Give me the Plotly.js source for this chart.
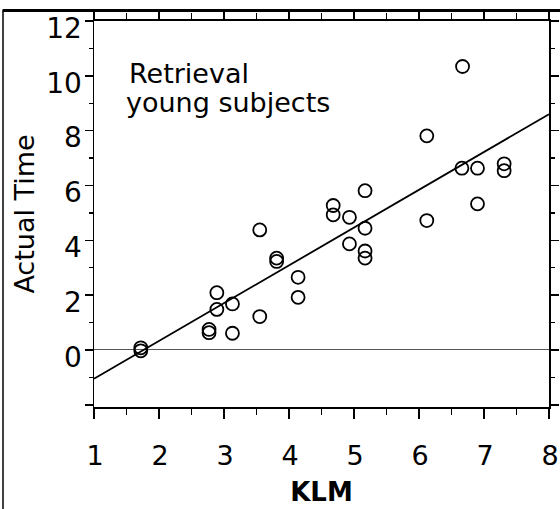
<!DOCTYPE html>
<html>
<head>
<meta charset="utf-8">
<script src="https://cdn.plot.ly/plotly-3.0.1.min.js"></script>
<style>html,body{margin:0;padding:0;background:#fff;}#chart{width:560px;height:509px;}</style>
</head>
<body>
<div id="chart"></div>
<script>
// Observed data: KLM predicted time vs actual time (retrieval, young subjects)
const klm = [1.72, 1.72, 2.77, 2.77, 2.89, 2.89, 3.13, 3.13, 3.55, 3.55,
             3.81, 3.81, 4.14, 4.14, 4.68, 4.68, 4.93, 4.93, 5.17, 5.17,
             5.17, 5.17, 6.12, 6.12, 6.66, 6.67, 6.90, 6.90, 7.31, 7.31];
const actualTime = [0.08, -0.03, 0.75, 0.63, 2.09, 1.48, 1.68, 0.61, 4.38, 1.22,
                    3.35, 3.23, 2.65, 1.92, 5.27, 4.93, 4.84, 3.87, 5.81, 4.44,
                    3.61, 3.35, 7.81, 4.72, 6.63, 10.34, 6.63, 5.33, 6.79, 6.54];
// Regression line endpoints
const fitKLM = [1, 8];
const fitActual = [-1.05, 8.6];
// Tick labels
const xTickVals = [1, 2, 3, 4, 5, 6, 7, 8];
const xTickText = ['1', '2', '3', '4', '5', '6', '7', '8'];
const yTickVals = [-2, 0, 2, 4, 6, 8, 10, 12];
const yTickText = ['', '0', '2', '4', '6', '8', '10', '12'];
const xMinorVals = [1.5, 2.5, 3.5, 4.5, 5.5, 6.5, 7.5];
const yMinorVals = [-1, 1, 3, 5, 7, 9, 11];
const annotationLines = ['Retrieval', 'young subjects'];

const FONT = 'DejaVu Sans, Arial, sans-serif';

const traces = [
  {
    x: fitKLM, y: fitActual, type: 'scatter', mode: 'lines',
    line: {color: '#000', width: 1.8}, hoverinfo: 'skip', showlegend: false
  },
  {
    x: klm, y: actualTime, type: 'scatter', mode: 'markers',
    marker: {symbol: 'circle-open', size: 13, color: '#000', line: {color: '#000', width: 1.8}},
    showlegend: false
  }
];

const layout = {
  width: 560, height: 509,
  margin: {l: 94, r: 11, t: 21, b: 102},
  paper_bgcolor: '#fff', plot_bgcolor: '#fff',
  showlegend: false,
  font: {family: FONT, color: '#000', size: 28},
  xaxis: {
    range: [1, 8], tickmode: 'array', tickvals: xTickVals, ticktext: xTickText,
    ticks: 'outside', ticklen: 10, tickwidth: 1.5, tickcolor: '#000',
    showline: true, linecolor: '#000', linewidth: 1.8, mirror: 'ticks',
    showgrid: false, zeroline: false,
    tickfont: {family: FONT, size: 27, color: '#000'},
    ticklabelstandoff: 14, ticklabelshift: 1, ticklabeloverflow: 'allow',
    minor: {tickmode: 'array', tickvals: xMinorVals, ticks: 'outside', ticklen: 6, tickwidth: 1.2, tickcolor: '#000', showgrid: false},
    title: {text: '<b>KLM</b>', font: {family: FONT, size: 26, color: '#000'}, standoff: 12},
    automargin: false
  },
  yaxis: {
    range: [-2.08, 12], tickmode: 'array', tickvals: yTickVals, ticktext: yTickText,
    ticks: 'outside', ticklen: 8, tickwidth: 1.5, tickcolor: '#000',
    showline: true, linecolor: '#000', linewidth: 1.5, mirror: 'ticks',
    showgrid: false, zeroline: true, zerolinecolor: '#555', zerolinewidth: 1,
    tickfont: {family: FONT, size: 28, color: '#000'},
    ticklabelshift: 7, ticklabelstandoff: -3, ticklabeloverflow: 'allow',
    minor: {tickmode: 'array', tickvals: yMinorVals, ticks: 'outside', ticklen: 4, tickwidth: 1.2, tickcolor: '#000', showgrid: false},
    title: {text: 'Actual Time', font: {family: FONT, size: 27, color: '#000'}, standoff: 4},
    automargin: false
  },
  annotations: [
    {xref: 'x', yref: 'y', x: 1.5, y: 10.1, xanchor: 'left', yanchor: 'middle', showarrow: false,
     text: annotationLines[0], font: {family: FONT, size: 27, color: '#000'}},
    {xref: 'x', yref: 'y', x: 1.46, y: 9.02, xanchor: 'left', yanchor: 'middle', showarrow: false,
     text: annotationLines[1], font: {family: FONT, size: 27, color: '#000'}}
  ],
  shapes: [
    {type: 'line', xref: 'paper', yref: 'paper', x0: -0.2, x1: 1.03, y0: 1.027, y1: 1.027, line: {color: '#000', width: 3}},
    {type: 'line', xref: 'paper', yref: 'paper', x0: -0.2, x1: -0.2, y0: 1.03, y1: -0.27, line: {color: '#000', width: 1.5}}
  ]
};

Plotly.newPlot('chart', traces, layout, {displayModeBar: false, staticPlot: true});
</script>
</body>
</html>
